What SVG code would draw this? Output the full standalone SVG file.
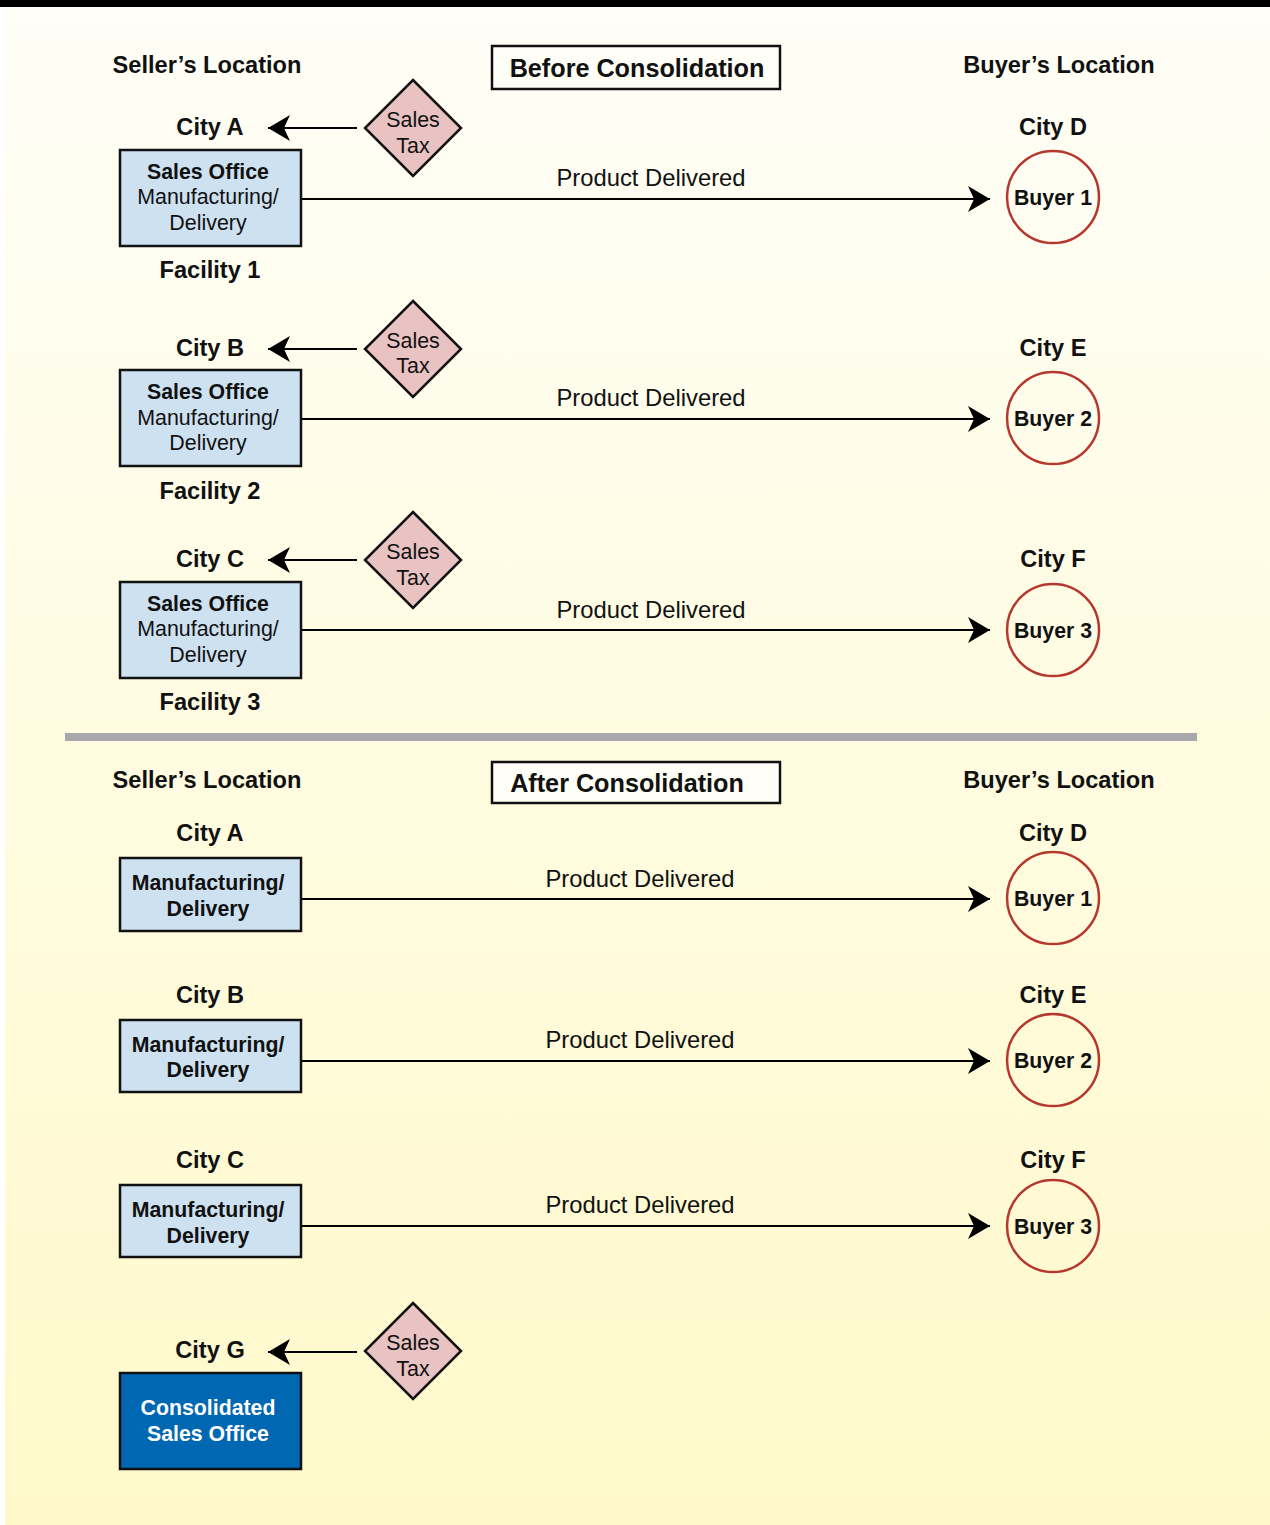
<svg xmlns="http://www.w3.org/2000/svg" width="1270" height="1525" viewBox="0 0 1270 1525">
<defs>
<linearGradient id="bg" x1="0" y1="0" x2="0" y2="1">
<stop offset="0" stop-color="#fffef7"/>
<stop offset="1" stop-color="#fff9ca"/>
</linearGradient>
<marker id="ah" markerUnits="userSpaceOnUse" viewBox="0 0 22 26" markerWidth="22" markerHeight="26" refX="22" refY="13" orient="auto">
<path d="M0,0 L22,13 L0,26 L6,13 Z" fill="#000"/>
</marker>
<style>
text{font-family:"Liberation Sans",Arial,sans-serif;fill:#111;text-anchor:middle}
.h{font-size:23.6px;font-weight:bold}
.t{font-size:25.2px;font-weight:bold}
.b{font-size:21.3px;font-weight:bold}
.r{font-size:21.4px}
.p{font-size:23.8px}
.w{fill:#fff}
.box{fill:#cde1f0;stroke:#111;stroke-width:2.5}
.blue{fill:#0067b3;stroke:#111;stroke-width:2.5}
.tbox{fill:#fffef7;stroke:#111;stroke-width:2.5}
.dia{fill:#e9c2c2;stroke:#111;stroke-width:2.5}
.buy{fill:none;stroke:#b5382e;stroke-width:2.5}
.ln{stroke:#000;stroke-width:2;fill:none;marker-end:url(#ah)}
</style>
</defs>
<rect x="0" y="0" width="1270" height="1525" fill="#fff"/>
<rect x="5" y="0" width="1265" height="1525" fill="url(#bg)"/>
<rect x="0" y="0" width="1270" height="7" fill="#000"/>
<rect x="65" y="733" width="1132" height="8" fill="#a7a8ab"/>

<g id="headers">
<text class="h" x="207" y="73">Seller’s Location</text>
<text class="h" x="1059" y="73">Buyer’s Location</text>
<text class="h" x="207" y="788">Seller’s Location</text>
<text class="h" x="1059" y="788">Buyer’s Location</text>
</g>
<g id="title-before">
<rect class="tbox" x="492" y="46" width="288" height="43"/>
<text class="t" x="637" y="77">Before Consolidation</text>
</g>
<g id="title-after">
<rect class="tbox" x="492" y="762" width="288" height="41"/>
<text class="t" x="627" y="792">After Consolidation</text>
</g>

<g id="connectors">
<line class="ln" x1="357" y1="128" x2="268" y2="128"/>
<line class="ln" x1="357" y1="349" x2="268" y2="349"/>
<line class="ln" x1="357" y1="560" x2="268" y2="560"/>
<line class="ln" x1="357" y1="1352" x2="268" y2="1352"/>
<line class="ln" x1="301" y1="199" x2="990" y2="199"/>
<line class="ln" x1="301" y1="419" x2="990" y2="419"/>
<line class="ln" x1="301" y1="630" x2="990" y2="630"/>
<line class="ln" x1="301" y1="899" x2="990" y2="899"/>
<line class="ln" x1="301" y1="1061" x2="990" y2="1061"/>
<line class="ln" x1="301" y1="1226" x2="990" y2="1226"/>
<text class="p" x="651" y="186">Product Delivered</text>
<text class="p" x="651" y="406">Product Delivered</text>
<text class="p" x="651" y="618">Product Delivered</text>
<text class="p" x="640" y="887">Product Delivered</text>
<text class="p" x="640" y="1048">Product Delivered</text>
<text class="p" x="640" y="1213">Product Delivered</text>
</g>

<g id="facility1">
<text class="h" x="210" y="135">City A</text>
<rect class="box" x="120" y="150" width="181" height="96"/>
<text class="b" x="208" y="179">Sales Office</text>
<text class="r" x="208" y="204">Manufacturing/</text>
<text class="r" x="208" y="230">Delivery</text>
<text class="h" x="210" y="278">Facility 1</text>
</g>
<g id="tax1">
<polygon class="dia" points="413,80 461,128 413,176 365,128"/>
<text class="r" x="413" y="127">Sales</text>
<text class="r" x="413" y="153">Tax</text>
</g>
<g id="buyer1">
<text class="h" x="1053" y="135">City D</text>
<circle class="buy" cx="1053" cy="197" r="46"/>
<text class="b" x="1053" y="205">Buyer 1</text>
</g>

<g id="facility2">
<text class="h" x="210" y="356">City B</text>
<rect class="box" x="120" y="370" width="181" height="96"/>
<text class="b" x="208" y="399">Sales Office</text>
<text class="r" x="208" y="425">Manufacturing/</text>
<text class="r" x="208" y="450">Delivery</text>
<text class="h" x="210" y="499">Facility 2</text>
</g>
<g id="tax2">
<polygon class="dia" points="413,301 461,349 413,397 365,349"/>
<text class="r" x="413" y="348">Sales</text>
<text class="r" x="413" y="373">Tax</text>
</g>
<g id="buyer2">
<text class="h" x="1053" y="356">City E</text>
<circle class="buy" cx="1053" cy="418" r="46"/>
<text class="b" x="1053" y="426">Buyer 2</text>
</g>

<g id="facility3">
<text class="h" x="210" y="567">City C</text>
<rect class="box" x="120" y="582" width="181" height="96"/>
<text class="b" x="208" y="611">Sales Office</text>
<text class="r" x="208" y="636">Manufacturing/</text>
<text class="r" x="208" y="662">Delivery</text>
<text class="h" x="210" y="710">Facility 3</text>
</g>
<g id="tax3">
<polygon class="dia" points="413,512 461,560 413,608 365,560"/>
<text class="r" x="413" y="559">Sales</text>
<text class="r" x="413" y="585">Tax</text>
</g>
<g id="buyer3">
<text class="h" x="1053" y="567">City F</text>
<circle class="buy" cx="1053" cy="630" r="46"/>
<text class="b" x="1053" y="638">Buyer 3</text>
</g>

<g id="after-a">
<text class="h" x="210" y="841">City A</text>
<rect class="box" x="120" y="858" width="181" height="73"/>
<text class="b" x="208" y="890">Manufacturing/</text>
<text class="b" x="208" y="916">Delivery</text>
</g>
<g id="after-buyer1">
<text class="h" x="1053" y="841">City D</text>
<circle class="buy" cx="1053" cy="898" r="46"/>
<text class="b" x="1053" y="906">Buyer 1</text>
</g>
<g id="after-b">
<text class="h" x="210" y="1003">City B</text>
<rect class="box" x="120" y="1020" width="181" height="72"/>
<text class="b" x="208" y="1052">Manufacturing/</text>
<text class="b" x="208" y="1077">Delivery</text>
</g>
<g id="after-buyer2">
<text class="h" x="1053" y="1003">City E</text>
<circle class="buy" cx="1053" cy="1060" r="46"/>
<text class="b" x="1053" y="1068">Buyer 2</text>
</g>
<g id="after-c">
<text class="h" x="210" y="1168">City C</text>
<rect class="box" x="120" y="1185" width="181" height="72"/>
<text class="b" x="208" y="1217">Manufacturing/</text>
<text class="b" x="208" y="1243">Delivery</text>
</g>
<g id="after-buyer3">
<text class="h" x="1053" y="1168">City F</text>
<circle class="buy" cx="1053" cy="1226" r="46"/>
<text class="b" x="1053" y="1234">Buyer 3</text>
</g>
<g id="consolidated">
<text class="h" x="210" y="1358">City G</text>
<rect class="blue" x="120" y="1373" width="181" height="96"/>
<text class="b w" x="208" y="1415">Consolidated</text>
<text class="b w" x="208" y="1441">Sales Office</text>
</g>
<g id="tax-g">
<polygon class="dia" points="413,1303 461,1351 413,1399 365,1351"/>
<text class="r" x="413" y="1350">Sales</text>
<text class="r" x="413" y="1376">Tax</text>
</g>
</svg>
